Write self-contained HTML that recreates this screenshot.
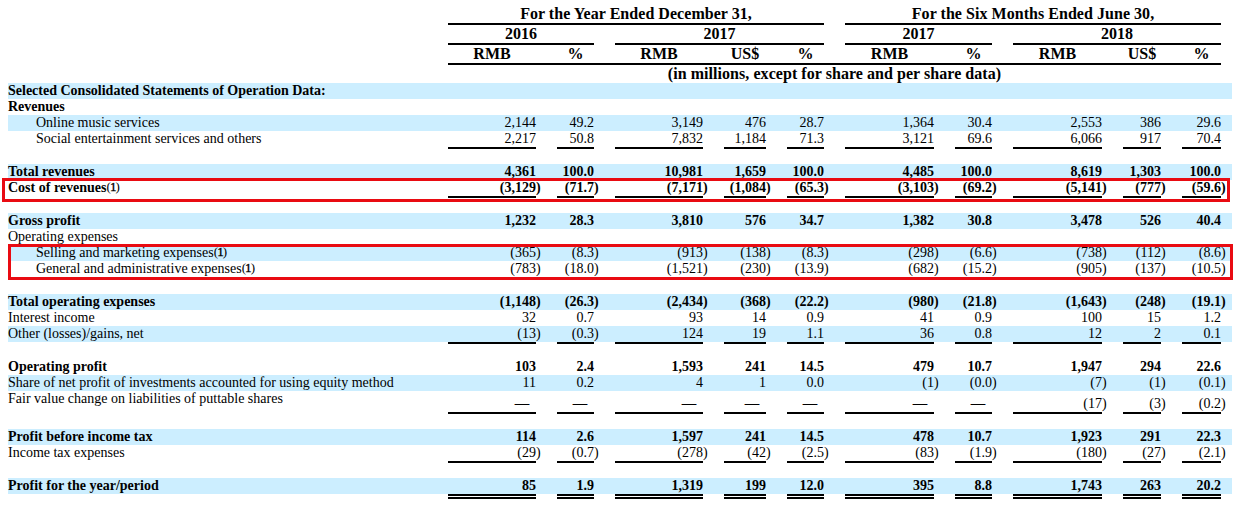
<!DOCTYPE html>
<html><head><meta charset="utf-8"><title>Selected Consolidated Statements of Operation Data</title>
<style>
html,body{margin:0;padding:0;background:#fff;}
body{width:1239px;height:507px;overflow:hidden;position:relative;font-family:"Liberation Serif",serif;color:#000;}
.r{position:absolute;left:8px;width:1224px;}
.bl{background:#cceeff;}
.t{position:absolute;white-space:nowrap;font-size:14px;line-height:16px;}
.h{position:absolute;white-space:nowrap;font-size:16px;line-height:18px;font-weight:bold;text-align:center;}
.n{position:absolute;white-space:nowrap;font-size:14px;line-height:16px;text-align:right;}
.p{position:absolute;white-space:nowrap;font-size:14px;line-height:16px;}
.b{font-weight:bold;}
.u{position:absolute;background:#000;height:2px;}
.dash{-webkit-text-stroke:0.5px #000;}
.fn{font-size:13px;letter-spacing:-0.9px;position:relative;top:-1px;}
.fn i{font-style:normal;-webkit-text-stroke:0.35px #000;}
.d{position:absolute;height:1px;border-top:2px solid #000;border-bottom:2px solid #000;}
.box{position:absolute;border:3px solid #e90b12;box-sizing:border-box;}
</style></head><body>

<div class="h" style="left:448px;width:376px;top:5px;letter-spacing:0.04px">For the Year Ended December 31,</div>
<div class="h" style="left:845px;width:376px;top:5px;letter-spacing:0.04px">For the Six Months Ended June 30,</div>
<div class="u" style="left:448px;width:376px;top:23px"></div>
<div class="u" style="left:845px;width:376px;top:23px"></div>
<div class="h" style="left:448px;width:146px;top:25px">2016</div>
<div class="h" style="left:615px;width:209px;top:25px">2017</div>
<div class="h" style="left:845px;width:147px;top:25px">2017</div>
<div class="h" style="left:1013px;width:208px;top:25px">2018</div>
<div class="u" style="left:448px;width:146px;top:43px"></div>
<div class="u" style="left:615px;width:209px;top:43px"></div>
<div class="u" style="left:845px;width:147px;top:43px"></div>
<div class="u" style="left:1013px;width:208px;top:43px"></div>
<div class="h" style="left:448px;width:88px;top:45px">RMB</div>
<div class="h" style="left:557px;width:37px;top:45px">%</div>
<div class="h" style="left:615px;width:88px;top:45px">RMB</div>
<div class="h" style="left:724px;width:42px;top:45px">US$</div>
<div class="h" style="left:787px;width:37px;top:45px">%</div>
<div class="h" style="left:845px;width:89px;top:45px">RMB</div>
<div class="h" style="left:955px;width:37px;top:45px">%</div>
<div class="h" style="left:1013px;width:89px;top:45px">RMB</div>
<div class="h" style="left:1123px;width:38px;top:45px">US$</div>
<div class="h" style="left:1182px;width:39px;top:45px">%</div>
<div class="u" style="left:448px;width:773px;top:63px"></div>
<div class="h" style="left:448px;width:773px;top:65px;letter-spacing:0.05px">(in millions, except for share and per share data)</div>
<div class="r bl" style="top:83px;height:16px"></div>
<div class="t" style="left:8px;top:83px"><b>Selected Consolidated Statements of Operation Data:</b></div>
<div class="r" style="top:99px;height:16px"></div>
<div class="t" style="left:8px;top:99px"><b>Revenues</b></div>
<div class="r bl" style="top:115px;height:16px"></div>
<div class="t" style="left:36px;top:115px">Online music services</div>
<div class="n" style="left:448px;width:88px;top:115px">2,144</div>
<div class="n" style="left:557px;width:37px;top:115px">49.2</div>
<div class="n" style="left:615px;width:88px;top:115px">3,149</div>
<div class="n" style="left:724px;width:42px;top:115px">476</div>
<div class="n" style="left:787px;width:37px;top:115px">28.7</div>
<div class="n" style="left:845px;width:89px;top:115px">1,364</div>
<div class="n" style="left:955px;width:37px;top:115px">30.4</div>
<div class="n" style="left:1013px;width:89px;top:115px">2,553</div>
<div class="n" style="left:1123px;width:38px;top:115px">386</div>
<div class="n" style="left:1182px;width:39px;top:115px">29.6</div>
<div class="r" style="top:131px;height:16px"></div>
<div class="t" style="left:36px;top:131px">Social entertainment services and others</div>
<div class="n" style="left:448px;width:88px;top:131px">2,217</div>
<div class="n" style="left:557px;width:37px;top:131px">50.8</div>
<div class="n" style="left:615px;width:88px;top:131px">7,832</div>
<div class="n" style="left:724px;width:42px;top:131px">1,184</div>
<div class="n" style="left:787px;width:37px;top:131px">71.3</div>
<div class="n" style="left:845px;width:89px;top:131px">3,121</div>
<div class="n" style="left:955px;width:37px;top:131px">69.6</div>
<div class="n" style="left:1013px;width:89px;top:131px">6,066</div>
<div class="n" style="left:1123px;width:38px;top:131px">917</div>
<div class="n" style="left:1182px;width:39px;top:131px">70.4</div>
<div class="u" style="left:448px;width:88px;top:147px"></div>
<div class="u" style="left:557px;width:37px;top:147px"></div>
<div class="u" style="left:615px;width:88px;top:147px"></div>
<div class="u" style="left:724px;width:42px;top:147px"></div>
<div class="u" style="left:787px;width:37px;top:147px"></div>
<div class="u" style="left:845px;width:89px;top:147px"></div>
<div class="u" style="left:955px;width:37px;top:147px"></div>
<div class="u" style="left:1013px;width:89px;top:147px"></div>
<div class="u" style="left:1123px;width:38px;top:147px"></div>
<div class="u" style="left:1182px;width:39px;top:147px"></div>
<div class="r bl" style="top:164px;height:16px"></div>
<div class="t" style="left:8px;top:164px"><b>Total revenues</b></div>
<div class="n b" style="left:448px;width:88px;top:164px">4,361</div>
<div class="n b" style="left:557px;width:37px;top:164px">100.0</div>
<div class="n b" style="left:615px;width:88px;top:164px">10,981</div>
<div class="n b" style="left:724px;width:42px;top:164px">1,659</div>
<div class="n b" style="left:787px;width:37px;top:164px">100.0</div>
<div class="n b" style="left:845px;width:89px;top:164px">4,485</div>
<div class="n b" style="left:955px;width:37px;top:164px">100.0</div>
<div class="n b" style="left:1013px;width:89px;top:164px">8,619</div>
<div class="n b" style="left:1123px;width:38px;top:164px">1,303</div>
<div class="n b" style="left:1182px;width:39px;top:164px">100.0</div>
<div class="r" style="top:180px;height:16px"></div>
<div class="t" style="left:8px;top:180px"><b>Cost of revenues</b><span class="fn">(<i>1</i>)</span></div>
<div class="n b" style="left:448px;width:88px;top:180px">(3,129</div>
<div class="p b" style="left:536px;top:180px">)</div>
<div class="n b" style="left:557px;width:37px;top:180px">(71.7</div>
<div class="p b" style="left:594px;top:180px">)</div>
<div class="n b" style="left:615px;width:88px;top:180px">(7,171</div>
<div class="p b" style="left:703px;top:180px">)</div>
<div class="n b" style="left:724px;width:42px;top:180px">(1,084</div>
<div class="p b" style="left:766px;top:180px">)</div>
<div class="n b" style="left:787px;width:37px;top:180px">(65.3</div>
<div class="p b" style="left:824px;top:180px">)</div>
<div class="n b" style="left:845px;width:89px;top:180px">(3,103</div>
<div class="p b" style="left:934px;top:180px">)</div>
<div class="n b" style="left:955px;width:37px;top:180px">(69.2</div>
<div class="p b" style="left:992px;top:180px">)</div>
<div class="n b" style="left:1013px;width:89px;top:180px">(5,141</div>
<div class="p b" style="left:1102px;top:180px">)</div>
<div class="n b" style="left:1123px;width:38px;top:180px">(777</div>
<div class="p b" style="left:1161px;top:180px">)</div>
<div class="n b" style="left:1182px;width:39px;top:180px">(59.6</div>
<div class="p b" style="left:1221px;top:180px">)</div>
<div class="u" style="left:448px;width:88px;top:196px"></div>
<div class="u" style="left:557px;width:37px;top:196px"></div>
<div class="u" style="left:615px;width:88px;top:196px"></div>
<div class="u" style="left:724px;width:42px;top:196px"></div>
<div class="u" style="left:787px;width:37px;top:196px"></div>
<div class="u" style="left:845px;width:89px;top:196px"></div>
<div class="u" style="left:955px;width:37px;top:196px"></div>
<div class="u" style="left:1013px;width:89px;top:196px"></div>
<div class="u" style="left:1123px;width:38px;top:196px"></div>
<div class="u" style="left:1182px;width:39px;top:196px"></div>
<div class="r bl" style="top:213px;height:16px"></div>
<div class="t" style="left:8px;top:213px"><b>Gross profit</b></div>
<div class="n b" style="left:448px;width:88px;top:213px">1,232</div>
<div class="n b" style="left:557px;width:37px;top:213px">28.3</div>
<div class="n b" style="left:615px;width:88px;top:213px">3,810</div>
<div class="n b" style="left:724px;width:42px;top:213px">576</div>
<div class="n b" style="left:787px;width:37px;top:213px">34.7</div>
<div class="n b" style="left:845px;width:89px;top:213px">1,382</div>
<div class="n b" style="left:955px;width:37px;top:213px">30.8</div>
<div class="n b" style="left:1013px;width:89px;top:213px">3,478</div>
<div class="n b" style="left:1123px;width:38px;top:213px">526</div>
<div class="n b" style="left:1182px;width:39px;top:213px">40.4</div>
<div class="r" style="top:229px;height:16px"></div>
<div class="t" style="left:8px;top:229px">Operating expenses</div>
<div class="r bl" style="top:245px;height:16px"></div>
<div class="t" style="left:36px;top:245px">Selling and marketing expenses<span class="fn">(<i>1</i>)</span></div>
<div class="n" style="left:448px;width:88px;top:245px">(365</div>
<div class="p" style="left:536px;top:245px">)</div>
<div class="n" style="left:557px;width:37px;top:245px">(8.3</div>
<div class="p" style="left:594px;top:245px">)</div>
<div class="n" style="left:615px;width:88px;top:245px">(913</div>
<div class="p" style="left:703px;top:245px">)</div>
<div class="n" style="left:724px;width:42px;top:245px">(138</div>
<div class="p" style="left:766px;top:245px">)</div>
<div class="n" style="left:787px;width:37px;top:245px">(8.3</div>
<div class="p" style="left:824px;top:245px">)</div>
<div class="n" style="left:845px;width:89px;top:245px">(298</div>
<div class="p" style="left:934px;top:245px">)</div>
<div class="n" style="left:955px;width:37px;top:245px">(6.6</div>
<div class="p" style="left:992px;top:245px">)</div>
<div class="n" style="left:1013px;width:89px;top:245px">(738</div>
<div class="p" style="left:1102px;top:245px">)</div>
<div class="n" style="left:1123px;width:38px;top:245px">(112</div>
<div class="p" style="left:1161px;top:245px">)</div>
<div class="n" style="left:1182px;width:39px;top:245px">(8.6</div>
<div class="p" style="left:1221px;top:245px">)</div>
<div class="r" style="top:261px;height:16px"></div>
<div class="t" style="left:36px;top:261px">General and administrative expenses<span class="fn">(<i>1</i>)</span></div>
<div class="n" style="left:448px;width:88px;top:261px">(783</div>
<div class="p" style="left:536px;top:261px">)</div>
<div class="n" style="left:557px;width:37px;top:261px">(18.0</div>
<div class="p" style="left:594px;top:261px">)</div>
<div class="n" style="left:615px;width:88px;top:261px">(1,521</div>
<div class="p" style="left:703px;top:261px">)</div>
<div class="n" style="left:724px;width:42px;top:261px">(230</div>
<div class="p" style="left:766px;top:261px">)</div>
<div class="n" style="left:787px;width:37px;top:261px">(13.9</div>
<div class="p" style="left:824px;top:261px">)</div>
<div class="n" style="left:845px;width:89px;top:261px">(682</div>
<div class="p" style="left:934px;top:261px">)</div>
<div class="n" style="left:955px;width:37px;top:261px">(15.2</div>
<div class="p" style="left:992px;top:261px">)</div>
<div class="n" style="left:1013px;width:89px;top:261px">(905</div>
<div class="p" style="left:1102px;top:261px">)</div>
<div class="n" style="left:1123px;width:38px;top:261px">(137</div>
<div class="p" style="left:1161px;top:261px">)</div>
<div class="n" style="left:1182px;width:39px;top:261px">(10.5</div>
<div class="p" style="left:1221px;top:261px">)</div>
<div class="u" style="left:448px;width:88px;top:277px"></div>
<div class="u" style="left:557px;width:37px;top:277px"></div>
<div class="u" style="left:615px;width:88px;top:277px"></div>
<div class="u" style="left:724px;width:42px;top:277px"></div>
<div class="u" style="left:787px;width:37px;top:277px"></div>
<div class="u" style="left:845px;width:89px;top:277px"></div>
<div class="u" style="left:955px;width:37px;top:277px"></div>
<div class="u" style="left:1013px;width:89px;top:277px"></div>
<div class="u" style="left:1123px;width:38px;top:277px"></div>
<div class="u" style="left:1182px;width:39px;top:277px"></div>
<div class="r bl" style="top:294px;height:16px"></div>
<div class="t" style="left:8px;top:294px"><b>Total operating expenses</b></div>
<div class="n b" style="left:448px;width:88px;top:294px">(1,148</div>
<div class="p b" style="left:536px;top:294px">)</div>
<div class="n b" style="left:557px;width:37px;top:294px">(26.3</div>
<div class="p b" style="left:594px;top:294px">)</div>
<div class="n b" style="left:615px;width:88px;top:294px">(2,434</div>
<div class="p b" style="left:703px;top:294px">)</div>
<div class="n b" style="left:724px;width:42px;top:294px">(368</div>
<div class="p b" style="left:766px;top:294px">)</div>
<div class="n b" style="left:787px;width:37px;top:294px">(22.2</div>
<div class="p b" style="left:824px;top:294px">)</div>
<div class="n b" style="left:845px;width:89px;top:294px">(980</div>
<div class="p b" style="left:934px;top:294px">)</div>
<div class="n b" style="left:955px;width:37px;top:294px">(21.8</div>
<div class="p b" style="left:992px;top:294px">)</div>
<div class="n b" style="left:1013px;width:89px;top:294px">(1,643</div>
<div class="p b" style="left:1102px;top:294px">)</div>
<div class="n b" style="left:1123px;width:38px;top:294px">(248</div>
<div class="p b" style="left:1161px;top:294px">)</div>
<div class="n b" style="left:1182px;width:39px;top:294px">(19.1</div>
<div class="p b" style="left:1221px;top:294px">)</div>
<div class="r" style="top:310px;height:16px"></div>
<div class="t" style="left:8px;top:310px">Interest income</div>
<div class="n" style="left:448px;width:88px;top:310px">32</div>
<div class="n" style="left:557px;width:37px;top:310px">0.7</div>
<div class="n" style="left:615px;width:88px;top:310px">93</div>
<div class="n" style="left:724px;width:42px;top:310px">14</div>
<div class="n" style="left:787px;width:37px;top:310px">0.9</div>
<div class="n" style="left:845px;width:89px;top:310px">41</div>
<div class="n" style="left:955px;width:37px;top:310px">0.9</div>
<div class="n" style="left:1013px;width:89px;top:310px">100</div>
<div class="n" style="left:1123px;width:38px;top:310px">15</div>
<div class="n" style="left:1182px;width:39px;top:310px">1.2</div>
<div class="r bl" style="top:326px;height:16px"></div>
<div class="t" style="left:8px;top:326px">Other (losses)/gains, net</div>
<div class="n" style="left:448px;width:88px;top:326px">(13</div>
<div class="p" style="left:536px;top:326px">)</div>
<div class="n" style="left:557px;width:37px;top:326px">(0.3</div>
<div class="p" style="left:594px;top:326px">)</div>
<div class="n" style="left:615px;width:88px;top:326px">124</div>
<div class="n" style="left:724px;width:42px;top:326px">19</div>
<div class="n" style="left:787px;width:37px;top:326px">1.1</div>
<div class="n" style="left:845px;width:89px;top:326px">36</div>
<div class="n" style="left:955px;width:37px;top:326px">0.8</div>
<div class="n" style="left:1013px;width:89px;top:326px">12</div>
<div class="n" style="left:1123px;width:38px;top:326px">2</div>
<div class="n" style="left:1182px;width:39px;top:326px">0.1</div>
<div class="u" style="left:448px;width:88px;top:342px"></div>
<div class="u" style="left:557px;width:37px;top:342px"></div>
<div class="u" style="left:615px;width:88px;top:342px"></div>
<div class="u" style="left:724px;width:42px;top:342px"></div>
<div class="u" style="left:787px;width:37px;top:342px"></div>
<div class="u" style="left:845px;width:89px;top:342px"></div>
<div class="u" style="left:955px;width:37px;top:342px"></div>
<div class="u" style="left:1013px;width:89px;top:342px"></div>
<div class="u" style="left:1123px;width:38px;top:342px"></div>
<div class="u" style="left:1182px;width:39px;top:342px"></div>
<div class="r" style="top:359px;height:16px"></div>
<div class="t" style="left:8px;top:359px"><b>Operating profit</b></div>
<div class="n b" style="left:448px;width:88px;top:359px">103</div>
<div class="n b" style="left:557px;width:37px;top:359px">2.4</div>
<div class="n b" style="left:615px;width:88px;top:359px">1,593</div>
<div class="n b" style="left:724px;width:42px;top:359px">241</div>
<div class="n b" style="left:787px;width:37px;top:359px">14.5</div>
<div class="n b" style="left:845px;width:89px;top:359px">479</div>
<div class="n b" style="left:955px;width:37px;top:359px">10.7</div>
<div class="n b" style="left:1013px;width:89px;top:359px">1,947</div>
<div class="n b" style="left:1123px;width:38px;top:359px">294</div>
<div class="n b" style="left:1182px;width:39px;top:359px">22.6</div>
<div class="r bl" style="top:375px;height:16px"></div>
<div class="t" style="left:8px;top:375px">Share of net profit of investments accounted for using equity method</div>
<div class="n" style="left:448px;width:88px;top:375px">11</div>
<div class="n" style="left:557px;width:37px;top:375px">0.2</div>
<div class="n" style="left:615px;width:88px;top:375px">4</div>
<div class="n" style="left:724px;width:42px;top:375px">1</div>
<div class="n" style="left:787px;width:37px;top:375px">0.0</div>
<div class="n" style="left:845px;width:89px;top:375px">(1</div>
<div class="p" style="left:934px;top:375px">)</div>
<div class="n" style="left:955px;width:37px;top:375px">(0.0</div>
<div class="p" style="left:992px;top:375px">)</div>
<div class="n" style="left:1013px;width:89px;top:375px">(7</div>
<div class="p" style="left:1102px;top:375px">)</div>
<div class="n" style="left:1123px;width:38px;top:375px">(1</div>
<div class="p" style="left:1161px;top:375px">)</div>
<div class="n" style="left:1182px;width:39px;top:375px">(0.1</div>
<div class="p" style="left:1221px;top:375px">)</div>
<div class="r" style="top:391px;height:21px"></div>
<div class="t" style="left:8px;top:391px">Fair value change on liabilities of puttable shares</div>
<div class="n dash" style="left:448px;width:81px;top:396px">—</div>
<div class="n dash" style="left:557px;width:30px;top:396px">—</div>
<div class="n dash" style="left:615px;width:81px;top:396px">—</div>
<div class="n dash" style="left:724px;width:35px;top:396px">—</div>
<div class="n dash" style="left:787px;width:30px;top:396px">—</div>
<div class="n dash" style="left:845px;width:82px;top:396px">—</div>
<div class="n dash" style="left:955px;width:30px;top:396px">—</div>
<div class="n" style="left:1013px;width:89px;top:396px">(17</div>
<div class="p" style="left:1102px;top:396px">)</div>
<div class="n" style="left:1123px;width:38px;top:396px">(3</div>
<div class="p" style="left:1161px;top:396px">)</div>
<div class="n" style="left:1182px;width:39px;top:396px">(0.2</div>
<div class="p" style="left:1221px;top:396px">)</div>
<div class="u" style="left:448px;width:88px;top:412px"></div>
<div class="u" style="left:557px;width:37px;top:412px"></div>
<div class="u" style="left:615px;width:88px;top:412px"></div>
<div class="u" style="left:724px;width:42px;top:412px"></div>
<div class="u" style="left:787px;width:37px;top:412px"></div>
<div class="u" style="left:845px;width:89px;top:412px"></div>
<div class="u" style="left:955px;width:37px;top:412px"></div>
<div class="u" style="left:1013px;width:89px;top:412px"></div>
<div class="u" style="left:1123px;width:38px;top:412px"></div>
<div class="u" style="left:1182px;width:39px;top:412px"></div>
<div class="r bl" style="top:429px;height:16px"></div>
<div class="t" style="left:8px;top:429px"><b>Profit before income tax</b></div>
<div class="n b" style="left:448px;width:88px;top:429px">114</div>
<div class="n b" style="left:557px;width:37px;top:429px">2.6</div>
<div class="n b" style="left:615px;width:88px;top:429px">1,597</div>
<div class="n b" style="left:724px;width:42px;top:429px">241</div>
<div class="n b" style="left:787px;width:37px;top:429px">14.5</div>
<div class="n b" style="left:845px;width:89px;top:429px">478</div>
<div class="n b" style="left:955px;width:37px;top:429px">10.7</div>
<div class="n b" style="left:1013px;width:89px;top:429px">1,923</div>
<div class="n b" style="left:1123px;width:38px;top:429px">291</div>
<div class="n b" style="left:1182px;width:39px;top:429px">22.3</div>
<div class="r" style="top:445px;height:16px"></div>
<div class="t" style="left:8px;top:445px">Income tax expenses</div>
<div class="n" style="left:448px;width:88px;top:445px">(29</div>
<div class="p" style="left:536px;top:445px">)</div>
<div class="n" style="left:557px;width:37px;top:445px">(0.7</div>
<div class="p" style="left:594px;top:445px">)</div>
<div class="n" style="left:615px;width:88px;top:445px">(278</div>
<div class="p" style="left:703px;top:445px">)</div>
<div class="n" style="left:724px;width:42px;top:445px">(42</div>
<div class="p" style="left:766px;top:445px">)</div>
<div class="n" style="left:787px;width:37px;top:445px">(2.5</div>
<div class="p" style="left:824px;top:445px">)</div>
<div class="n" style="left:845px;width:89px;top:445px">(83</div>
<div class="p" style="left:934px;top:445px">)</div>
<div class="n" style="left:955px;width:37px;top:445px">(1.9</div>
<div class="p" style="left:992px;top:445px">)</div>
<div class="n" style="left:1013px;width:89px;top:445px">(180</div>
<div class="p" style="left:1102px;top:445px">)</div>
<div class="n" style="left:1123px;width:38px;top:445px">(27</div>
<div class="p" style="left:1161px;top:445px">)</div>
<div class="n" style="left:1182px;width:39px;top:445px">(2.1</div>
<div class="p" style="left:1221px;top:445px">)</div>
<div class="u" style="left:448px;width:88px;top:461px"></div>
<div class="u" style="left:557px;width:37px;top:461px"></div>
<div class="u" style="left:615px;width:88px;top:461px"></div>
<div class="u" style="left:724px;width:42px;top:461px"></div>
<div class="u" style="left:787px;width:37px;top:461px"></div>
<div class="u" style="left:845px;width:89px;top:461px"></div>
<div class="u" style="left:955px;width:37px;top:461px"></div>
<div class="u" style="left:1013px;width:89px;top:461px"></div>
<div class="u" style="left:1123px;width:38px;top:461px"></div>
<div class="u" style="left:1182px;width:39px;top:461px"></div>
<div class="r bl" style="top:478px;height:16px"></div>
<div class="t" style="left:8px;top:478px"><b>Profit for the year/period</b></div>
<div class="n b" style="left:448px;width:88px;top:478px">85</div>
<div class="n b" style="left:557px;width:37px;top:478px">1.9</div>
<div class="n b" style="left:615px;width:88px;top:478px">1,319</div>
<div class="n b" style="left:724px;width:42px;top:478px">199</div>
<div class="n b" style="left:787px;width:37px;top:478px">12.0</div>
<div class="n b" style="left:845px;width:89px;top:478px">395</div>
<div class="n b" style="left:955px;width:37px;top:478px">8.8</div>
<div class="n b" style="left:1013px;width:89px;top:478px">1,743</div>
<div class="n b" style="left:1123px;width:38px;top:478px">263</div>
<div class="n b" style="left:1182px;width:39px;top:478px">20.2</div>
<div class="d" style="left:448px;width:88px;top:494px"></div>
<div class="d" style="left:557px;width:37px;top:494px"></div>
<div class="d" style="left:615px;width:88px;top:494px"></div>
<div class="d" style="left:724px;width:42px;top:494px"></div>
<div class="d" style="left:787px;width:37px;top:494px"></div>
<div class="d" style="left:845px;width:89px;top:494px"></div>
<div class="d" style="left:955px;width:37px;top:494px"></div>
<div class="d" style="left:1013px;width:89px;top:494px"></div>
<div class="d" style="left:1123px;width:38px;top:494px"></div>
<div class="d" style="left:1182px;width:39px;top:494px"></div>
<div class="box" style="left:2px;top:178px;width:1228px;height:24px"></div>
<div class="box" style="left:8px;top:244px;width:1225px;height:36px"></div>
</body></html>
